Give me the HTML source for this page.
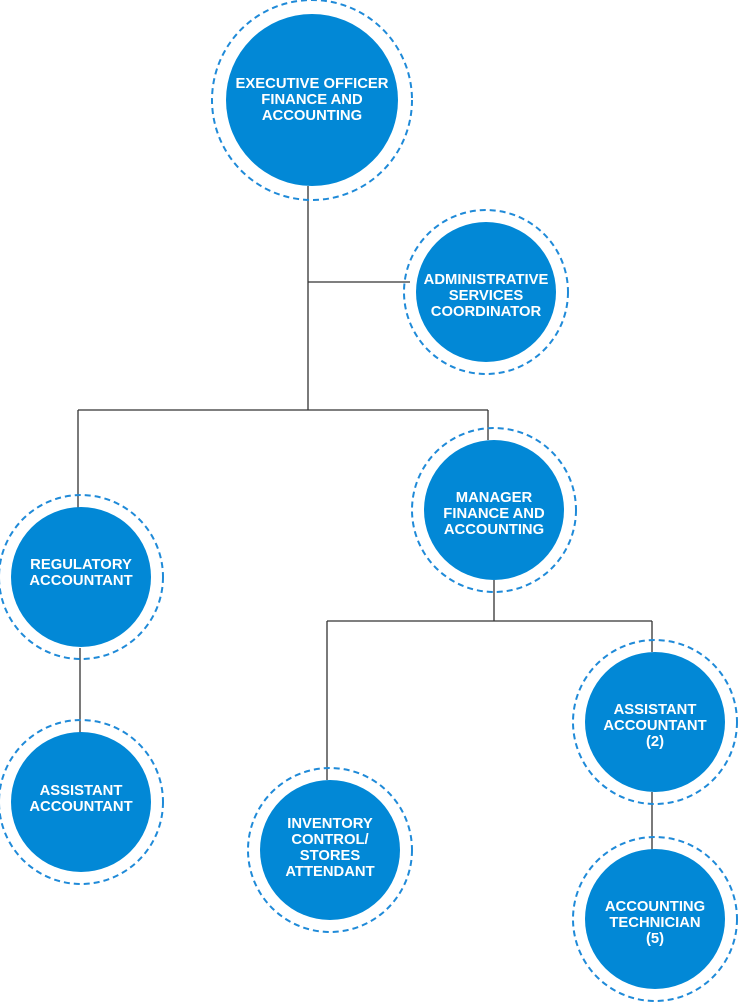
<!DOCTYPE html>
<html><head><meta charset="utf-8"><style>
html,body{margin:0;padding:0;background:#fff;}
svg{display:block}
text{font-family:"Liberation Sans",sans-serif;font-weight:bold;font-size:14.8px;fill:#fff;text-anchor:middle}
</style></head><body>
<svg width="739" height="1002" viewBox="0 0 739 1002">
<g stroke="#333" stroke-width="1.3" fill="none">
<path d="M308 186V410M308 282H410M78 410H488M78 410V508M488 410V440M494 580V621M327 621H652M327 621V780M652 621V652M80 648V735M652 792V850"/>
</g>
<g fill="none" stroke="#1f8ad8" stroke-width="2" stroke-dasharray="6 4">
<circle cx="312" cy="100" r="100"/>
<circle cx="486" cy="292" r="82"/>
<circle cx="81" cy="577" r="82"/>
<circle cx="494" cy="510" r="82"/>
<circle cx="81" cy="802" r="82"/>
<circle cx="330" cy="850" r="82"/>
<circle cx="655" cy="722" r="82"/>
<circle cx="655" cy="919" r="82"/>
</g>
<g fill="#0288d6">
<circle cx="312" cy="100" r="86"/>
<circle cx="486" cy="292" r="70"/>
<circle cx="81" cy="577" r="70"/>
<circle cx="494" cy="510" r="70"/>
<circle cx="81" cy="802" r="70"/>
<circle cx="330" cy="850" r="70"/>
<circle cx="655" cy="722" r="70"/>
<circle cx="655" cy="919" r="70"/>
</g>
<text x="312" y="88">EXECUTIVE OFFICER</text><text x="312" y="104">FINANCE AND</text><text x="312" y="120">ACCOUNTING</text>
<text x="486" y="284">ADMINISTRATIVE</text><text x="486" y="300">SERVICES</text><text x="486" y="316">COORDINATOR</text>
<text x="81" y="569">REGULATORY</text><text x="81" y="585">ACCOUNTANT</text>
<text x="494" y="502">MANAGER</text><text x="494" y="518">FINANCE AND</text><text x="494" y="534">ACCOUNTING</text>
<text x="81" y="795">ASSISTANT</text><text x="81" y="811">ACCOUNTANT</text>
<text x="330" y="828">INVENTORY</text><text x="330" y="844">CONTROL/</text><text x="330" y="860">STORES</text><text x="330" y="876">ATTENDANT</text>
<text x="655" y="714">ASSISTANT</text><text x="655" y="730">ACCOUNTANT</text><text x="655" y="746">(2)</text>
<text x="655" y="911">ACCOUNTING</text><text x="655" y="927">TECHNICIAN</text><text x="655" y="943">(5)</text>
</svg>
</body></html>
